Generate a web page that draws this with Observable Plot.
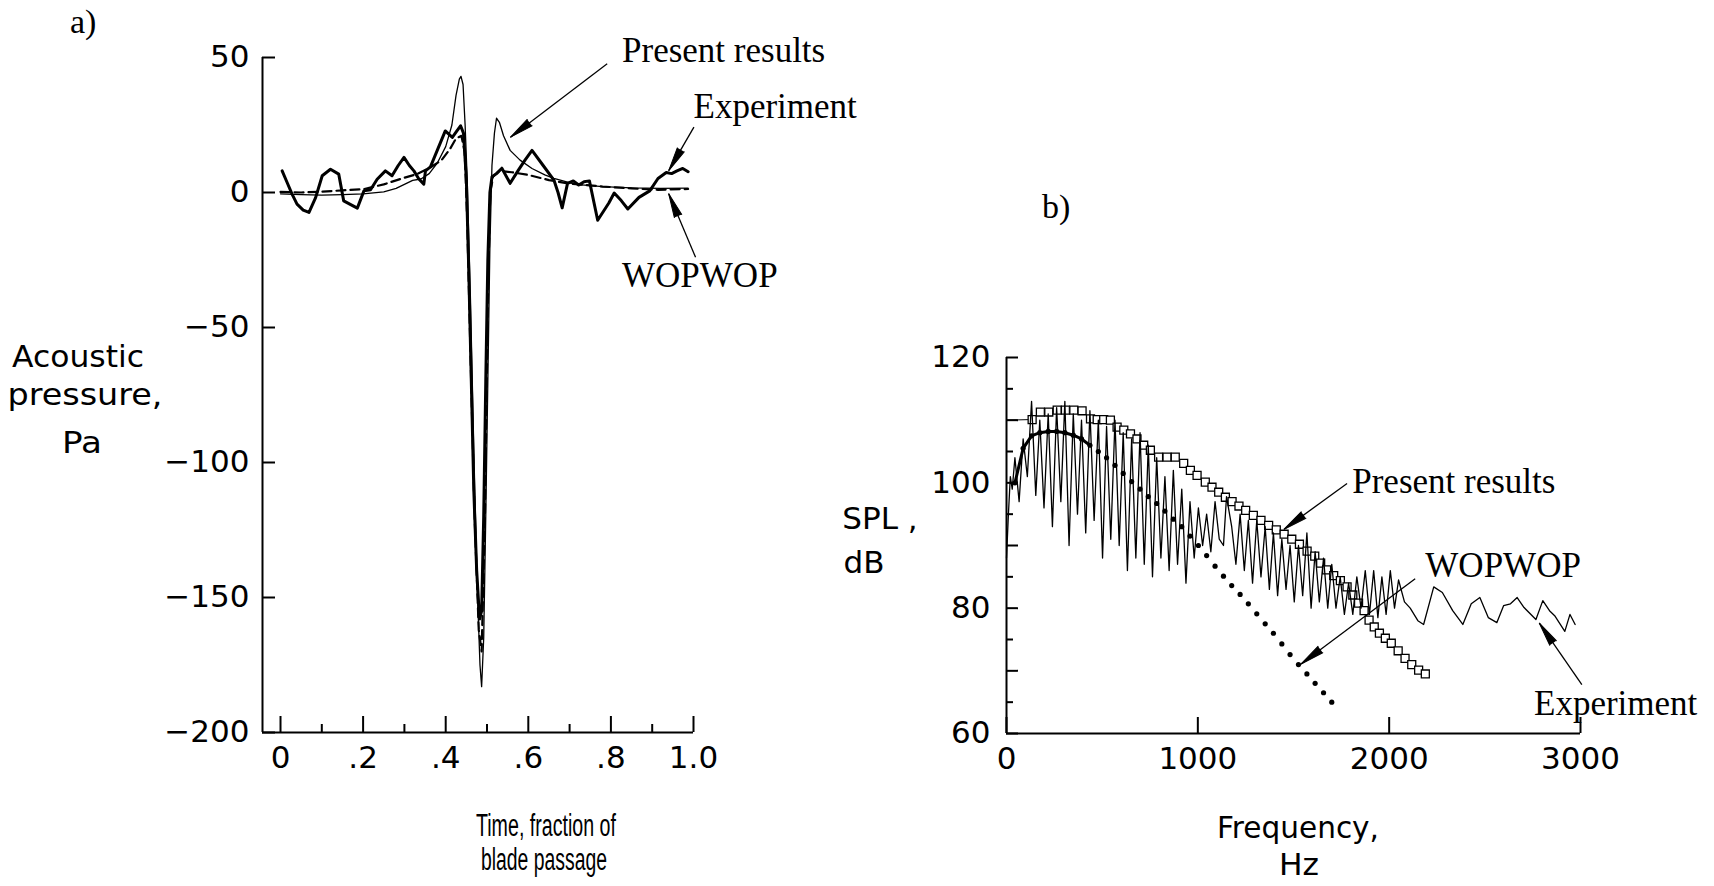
<!DOCTYPE html>
<html>
<head>
<meta charset="utf-8">
<script src="https://cdn.jsdelivr.net/npm/d3@7"></script>
<script src="https://cdn.jsdelivr.net/npm/@observablehq/plot@0.6"></script>
<style>
html,body{margin:0;padding:0;background:#fff;}
#root{position:relative;width:1714px;height:886px;overflow:hidden;background:#fff;}
#root svg{position:absolute;top:0;}
</style>
</head>
<body>
<div id="root"></div>
<script>
// ---------------- Panel a) : acoustic pressure time history ----------------
const presA_t = [0.00,0.05,0.10,0.15,0.20,0.25,0.28,0.30,0.32,0.34,0.36,0.38,0.40,0.415,0.425,0.433,0.437,0.442,0.447,0.452,0.46,0.468,0.476,0.483,0.487,0.492,0.497,0.502,0.507,0.512,0.518,0.523,0.53,0.54,0.556,0.58,0.609,0.64,0.662,0.715,0.78,0.85,0.92,0.987];
const presA_p = [-0.5,-0.8,-1.0,-0.8,-0.5,0.2,1.5,3.0,4.5,5.0,7.0,11,17,25,36,42,43,40,25,5,-40,-95,-145,-175,-183,-165,-120,-70,-20,10,22,27.5,26,21,15.6,12,8.9,6.5,5.2,3.0,2.2,1.7,1.5,1.6];

const expA_t = [0.004,0.016,0.028,0.04,0.055,0.069,0.085,0.101,0.121,0.141,0.153,0.170,0.186,0.202,0.218,0.234,0.254,0.27,0.285,0.299,0.312,0.323,0.335,0.347,0.351,0.363,0.379,0.399,0.416,0.428,0.436,0.443,0.45,0.456,0.462,0.468,0.475,0.482,0.487,0.492,0.497,0.502,0.507,0.512,0.523,0.536,0.556,0.576,0.592,0.609,0.636,0.662,0.672,0.682,0.695,0.709,0.722,0.735,0.748,0.768,0.795,0.808,0.825,0.841,0.868,0.894,0.914,0.934,0.947,0.96,0.974,0.987];
const expA_p = [8,3.7,-0.6,-4.3,-6.5,-7.4,-1.9,6.2,8.6,6.8,-3.1,-4.5,-5.8,0.6,1.0,4.9,8.0,6.2,10,13,10,8,5,3.1,8,9.5,15.4,22.8,20.4,23,24.7,22,5,-30,-70,-110,-140,-158,-155,-120,-70,-25,0,5.8,7,9,3.4,8.3,12,15.6,10,4.6,0,-5.7,3.4,4.3,2.8,4,4.3,-10.3,-3.9,-0.2,-3,-6.1,-1.8,0.6,5.2,7.4,7,8,8.9,7.7];

const wopA_t = [0.0,0.05,0.10,0.15,0.20,0.25,0.29,0.33,0.36,0.39,0.41,0.425,0.438,0.446,0.452,0.46,0.47,0.48,0.487,0.495,0.502,0.508,0.515,0.53,0.56,0.60,0.65,0.70,0.78,0.85,0.914,0.987];
const wopA_p = [0.2,0.0,0.3,0.8,1.2,3.0,5.0,6.8,9.0,12,16,20,21,15,-10,-60,-120,-162,-170,-120,-40,0,6,8,7.5,6.5,4.6,3.3,2.2,1.5,1.0,1.3];

const xDomA = [-0.0436, 1.0];
const yDomA = [-200, 50];
const yTicksA = [50, 0, -50, -100, -150, -200];
const xMajorA = [0, 0.2, 0.4, 0.6, 0.8, 1.0];
const xMajorLabelsA = ["0", ".2", ".4", ".6", ".8", "1.0"];
const xMinorA = [0.1, 0.3, 0.5, 0.7, 0.9];

const annA_text = ["Present results", "Experiment", "WOPWOP"];
const annA_x = [0.827, 1.0, 0.827];
const annA_y = [52.5, 31.7, -30.8];
const arrA_x1 = [0.791, 1.001, 1.005];
const arrA_y1 = [47.7, 24.2, -24.0];
const arrA_x2 = [0.557, 0.940, 0.940];
const arrA_y2 = [20.5, 8.1, -0.5];

// ---------------- Panel b) : SPL spectrum ----------------
const presB_f = [0,134,177,221,265,308,352,395,439,474,508,543,578,613,648,682,717,752,795,839,882,926,961,996,1039,1074,1109,1144,1179,1215,1250,1290,1330,1370,1410,1451,1491,1531,1571,1611,1642,1673,1710,1745,1780,1810,1840,1869,1895,1922,1949,1980,2011,2047,2083,2118,2154,2189];
const presB_spl = [110.0,110.1,111.3,111.3,111.6,111.6,111.6,111.5,110.2,110.1,110.1,110.0,108.9,108.4,107.8,107.0,106.0,105.2,104.1,104.1,104.1,103.1,102.0,101.2,100.1,99.3,98.5,97.7,97.0,96.3,95.6,94.8,94.0,93.2,92.5,91.8,91.0,90.2,89.1,88.3,87.2,86.1,85.2,84.4,83.4,82.1,80.8,79.6,78.1,77.0,76.0,75.2,74.4,73.2,72.0,71.0,70.1,69.5];

const expB_f = [0,10,20,30,44,66,87,109,131,153,174,196,218,240,262,284,305,327,349,371,392,414,436,458,480,502,523,545,567,589,610,632,654,676,698,720,741,763,785,807,828,850,872,894,916,938,959,981,1003,1025,1046,1068,1090,1112,1134,1150,1177,1199,1221,1243,1264,1286,1308,1330,1352,1374,1395,1417,1439,1461,1482,1504,1526,1548,1570,1592,1613,1635,1657,1679,1700,1722,1744,1766,1788,1810,1831,1853,1875,1897,1919,1941,1962,1984,2006,2028,2049,2080,2110,2150,2180,2233,2278,2332,2385,2429,2474,2518,2563,2598,2634,2669,2705,2767,2803,2838,2865,2918,2945,2972];
const expB_spl = [88,95,101,99,104,97,107,101,113,98,110,96,111,93,112,97,113,90,111,95,110,92,111.5,94,110,88,109,91,110,90,108,86,107,88,108,87,106,85,104,88,101,86,102,87,99,84,97,88,96,90,95,89,97,91,90,97.8,93,87,95,86,94,84,94,85,93,83,92,82,91,83,90,81,90,82,92,80,89,81,88,80,87,80,85,79,84,79,85,80,86,79,86,78.5,85,79,86,80,84.5,81,80,78,77.4,83.4,82.5,79.6,77.4,80.7,81.7,78.5,77.7,80.4,80.7,81.7,80.1,78.2,81.2,79.6,78.8,76.3,79.0,77.4];

const wopB_f = [44,87,131,174,218,262,305,349,392,436,480,523,567,610,654,698,741,785,828,872,916,959,1003,1046,1090,1134,1177,1221,1264,1308,1352,1395,1439,1482,1526,1570,1613,1657,1700];
const wopB_spl = [100,105.5,107.5,108.0,108.2,108.2,108.0,107.6,107.0,106.0,105.0,104.0,102.8,101.5,100.2,99.0,97.8,96.7,95.5,94.2,93.0,91.5,90.0,88.4,86.7,85.1,83.6,82.2,80.7,79.1,77.5,76.0,74.3,72.6,71.0,69.5,68.0,66.5,65.0];

const xDomB = [0, 3000];
const yDomB = [60, 120];
const xTicksB = [0, 1000, 2000, 3000];
const yTensB = [60, 70, 80, 90, 100, 110, 120];
const yFivesB = [65, 75, 85, 95, 105, 115];
const yLabeledB = [60, 80, 100, 120];

const annB_text = ["Present results", "WOPWOP", "Experiment"];
const annB_f = [1807, 2189, 2757];
const annB_spl = [100.1, 86.8, 64.8];
const arrB_f1 = [1780, 2136, 3007];
const arrB_s1 = [99.9, 84.7, 67.8];
const arrB_f2 = [1451, 1540, 2785];
const arrB_s2 = [92.6, 71.1, 77.6];

// ---------------- build tables ----------------
const presA = presA_t.map((t, i) => ({t, p: presA_p[i]}));
const expA = expA_t.map((t, i) => ({t, p: expA_p[i]}));
const wopA = wopA_t.map((t, i) => ({t, p: wopA_p[i]}));
const annA = annA_text.map((text, i) => ({text, x: annA_x[i], y: annA_y[i]}));
const arrA = arrA_x1.map((x1, i) => ({x1, y1: arrA_y1[i], x2: arrA_x2[i], y2: arrA_y2[i]}));

const presB = presB_f.map((f, i) => ({f, s: presB_spl[i]}));
const expB = expB_f.map((f, i) => ({f, s: expB_spl[i]}));
const wopB = wopB_f.map((f, i) => ({f, s: wopB_spl[i]}));
const annB = annB_text.map((text, i) => ({text, x: annB_f[i], y: annB_spl[i]}));
const arrB = arrB_f1.map((x1, i) => ({x1, y1: arrB_s1[i], x2: arrB_f2[i], y2: arrB_s2[i]}));

const SANS = "DejaVu Sans, sans-serif";
const SERIF = "Liberation Serif, Times New Roman, serif";
const baseStyle = {fontFamily: SANS, fontSize: "31px", color: "black", background: "transparent", overflow: "visible"};
const fmtA = d => d < 0 ? "\u2212" + (-d) : String(d);
const xLabA = new Map(xMajorA.map((v, i) => [v, xMajorLabelsA[i]]));
const yLabB = new Set(yLabeledB);

function arrowMarks(arr, heads) {
  const m = [Plot.link(arr, {x1: "x1", y1: "y1", x2: "x2", y2: "y2", stroke: "black", strokeWidth: 1.3})];
  if (heads) m.push(Plot.vector(arr, {x: "x2", y: "y2", rotate: (d, i) => heads[i], length: 24, r: 4, shape: "spike", anchor: "end", fill: "black", stroke: "black", strokeWidth: 1}));
  return m;
}

function buildA(heads) {
  return Plot.plot({
    width: 860, height: 886,
    marginLeft: 262, marginRight: 167, marginTop: 57, marginBottom: 154,
    x: {domain: xDomA}, y: {domain: yDomA},
    style: baseStyle,
    marks: [
      Plot.ruleX([xDomA[0]], {y1: yDomA[0], y2: yDomA[1], strokeWidth: 2}),
      Plot.ruleY([yDomA[0]], {x1: xDomA[0], x2: xDomA[1], strokeWidth: 2}),
      Plot.axisY(yTicksA, {anchor: "left", tickSize: -13, tickPadding: 26, tickFormat: fmtA, strokeWidth: 2, label: null}),
      Plot.axisX(xMajorA, {anchor: "bottom", tickSize: -16, tickPadding: 29, tickFormat: d => xLabA.get(d), strokeWidth: 2, label: null}),
      Plot.axisX(xMinorA, {anchor: "bottom", tickSize: -8, tickFormat: () => "", strokeWidth: 2, label: null}),
      Plot.line(wopA, {x: "t", y: "p", stroke: "black", strokeWidth: 2.2, strokeDasharray: "9,5"}),
      Plot.line(presA, {x: "t", y: "p", stroke: "black", strokeWidth: 1.3}),
      Plot.line(expA, {x: "t", y: "p", stroke: "black", strokeWidth: 3}),
      ...arrowMarks(arrA, heads),
      Plot.text(annA, {x: "x", y: "y", text: "text", textAnchor: "start", fontFamily: SERIF, fontSize: 35, fill: "black"})
    ]
  });
}

function buildB(heads) {
  return Plot.plot({
    width: 854, height: 886,
    marginLeft: 146, marginRight: 134, marginTop: 357, marginBottom: 153,
    x: {domain: xDomB}, y: {domain: yDomB},
    style: baseStyle,
    marks: [
      Plot.ruleX([xDomB[0]], {y1: yDomB[0], y2: yDomB[1], strokeWidth: 2}),
      Plot.ruleY([yDomB[0]], {x1: xDomB[0], x2: xDomB[1], strokeWidth: 2}),
      Plot.axisY(yTensB, {anchor: "left", tickSize: -12, tickPadding: 28, tickFormat: d => yLabB.has(d) ? String(d) : "", strokeWidth: 2, label: null}),
      Plot.axisY(yFivesB, {anchor: "left", tickSize: -7, tickFormat: () => "", strokeWidth: 2, label: null}),
      Plot.axisX(xTicksB, {anchor: "bottom", tickSize: -16, tickPadding: 29, tickFormat: d => String(d), strokeWidth: 2, label: null}),
      Plot.line(presB, {x: "f", y: "s", stroke: "black", strokeWidth: 1}),
      Plot.dot(presB.filter(d => d.f > 0), {x: "f", y: "s", symbol: "square", r: 4.5, fill: "white", stroke: "black", strokeWidth: 1.3}),
      Plot.line(expB, {x: "f", y: "s", stroke: "black", strokeWidth: 1.3}),
      Plot.line(wopB.filter(d => d.f <= 440), {x: "f", y: "s", stroke: "black", strokeWidth: 3}),
      Plot.dot(wopB, {x: "f", y: "s", r: 2.6, fill: "black"}),
      ...arrowMarks(arrB, heads),
      Plot.text(annB, {x: "x", y: "y", text: "text", textAnchor: "start", fontFamily: SERIF, fontSize: 35, fill: "black"})
    ]
  });
}

function headAngles(plot, arr) {
  const sx = plot.scale("x"), sy = plot.scale("y");
  const fx = d3.scaleLinear(sx.domain, sx.range), fy = d3.scaleLinear(sy.domain, sy.range);
  return arr.map(d => {
    const dx = fx(d.x2) - fx(d.x1), dy = fy(d.y2) - fy(d.y1);
    return Math.atan2(dx, -dy) * 180 / Math.PI;
  });
}

const root = document.getElementById("root");
const plotA = buildA(headAngles(buildA(null), arrA));
plotA.style.left = "0px";
root.appendChild(plotA);
const plotB = buildB(headAngles(buildB(null), arrB));
plotB.style.left = "860px";
root.appendChild(plotB);

// ---------------- titles and axis labels ----------------
const ov = d3.select(root).append("svg")
  .attr("width", 1714).attr("height", 886)
  .style("left", "0px").style("pointer-events", "none");

function label(text, x, y, o = {}) {
  const t = ov.append("text").attr("x", x).attr("y", y)
    .attr("text-anchor", o.anchor || "middle")
    .attr("font-family", o.family || SANS)
    .attr("font-size", o.size || 31)
    .attr("fill", "black")
    .text(text);
  if (o.len) t.attr("textLength", o.len).attr("lengthAdjust", "spacingAndGlyphs");
  return t;
}

label("a)", 70, 33, {anchor: "start", family: SERIF, size: 34});
label("b)", 1042, 218, {anchor: "start", family: SERIF, size: 34});

label("Acoustic", 78, 367, {len: 132});
label("pressure,", 85, 405, {len: 155});
label("Pa", 82, 453, {len: 40});

label("Time, fraction of", 546, 836, {family: "Liberation Sans, Arial, sans-serif", size: 31, len: 140});
label("blade passage", 544, 870, {family: "Liberation Sans, Arial, sans-serif", size: 31, len: 126});

label("SPL ,", 880, 529);
label("dB", 864, 573);

label("Frequency,", 1298, 838, {len: 162});
label("Hz", 1299, 875, {len: 40});
</script>
</body>
</html>
